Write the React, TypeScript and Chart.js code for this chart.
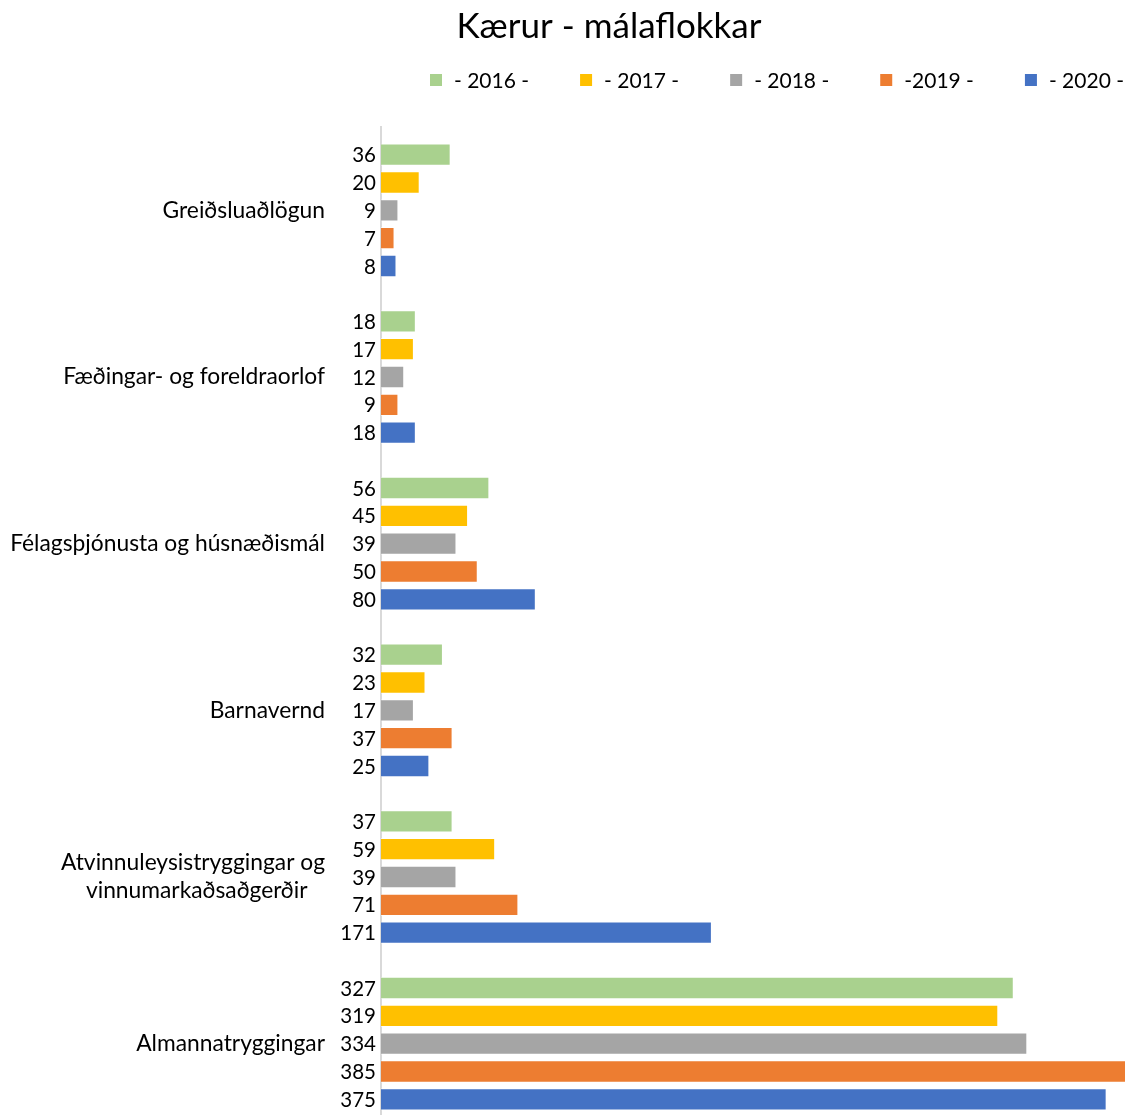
import React, { useEffect, useRef } from "react";
import { Chart, registerables } from "chart.js";

Chart.register(...registerables);

const FONT = "Lato, 'Open Sans', sans-serif";

const categories: (string | string[])[] = [
  "Greiðsluaðlögun",
  "Fæðingar- og foreldraorlof",
  "Félagsþjónusta og húsnæðismál",
  "Barnavernd",
  ["Atvinnuleysistryggingar og", "vinnumarkaðsaðgerðir   "],
  "Almannatryggingar",
];

const seriesLabels = ["- 2016 -", "- 2017 -", "- 2018 -", "-2019 -", "- 2020 -"];
const seriesColors = ["#A9D18E", "#FFC000", "#A5A5A5", "#ED7D31", "#4472C4"];

const values2016 = [36, 18, 56, 32, 37, 327];
const values2017 = [20, 17, 45, 23, 59, 319];
const values2018 = [9, 12, 39, 17, 39, 334];
const values2019 = [7, 9, 50, 37, 71, 385];
const values2020 = [8, 18, 80, 25, 171, 375];

const seriesValues = [values2016, values2017, values2018, values2019, values2020];

const valueLabelPlugin = {
  id: "valueLabels",
  afterDatasetsDraw(chart: any) {
    const ctx = chart.ctx;
    ctx.save();
    ctx.font = `20.5px ${FONT}`;
    ctx.fillStyle = "#000";
    ctx.textAlign = "right";
    ctx.textBaseline = "middle";
    chart.data.datasets.forEach((ds: any, di: number) => {
      const meta = chart.getDatasetMeta(di);
      meta.data.forEach((bar: any, i: number) => {
        ctx.fillText(String(ds.data[i]), chart.chartArea.left - 5, bar.y + 1);
      });
    });
    ctx.restore();
  },
};

const legendPlugin = {
  id: "rowLegend",
  afterDraw(chart: any) {
    const ctx = chart.ctx;
    ctx.save();
    ctx.font = `21px ${FONT}`;
    ctx.textBaseline = "middle";
    ctx.textAlign = "left";
    const boxW = 12;
    const boxGap = 12;
    const itemGap = 51;
    const ds = chart.data.datasets;
    const widths = ds.map((d: any) => ctx.measureText(d.label).width);
    const total =
      widths.reduce((a: number, w: number) => a + boxW + boxGap + w, 0) + itemGap * (ds.length - 1);
    let x = chart.width - 4 - total;
    const y = chart.chartArea.top - 47;
    ds.forEach((d: any, i: number) => {
      ctx.fillStyle = d.backgroundColor;
      ctx.fillRect(x, y - boxW / 2, boxW, boxW);
      ctx.fillStyle = "#000";
      ctx.fillText(d.label, x + boxW + boxGap, y + 1);
      x += boxW + boxGap + widths[i] + itemGap;
    });
    ctx.restore();
  },
};

// let the category labels use the space left of the axis box (no clipping)
const widenLabelArea = {
  id: "widenLabelArea",
  afterLayout(chart: any) {
    const y = chart.scales.y;
    if (y) y.left = 0;
  },
};

export default function App() {
  const ref = useRef<HTMLCanvasElement | null>(null);

  useEffect(() => {
    if (!ref.current) return;
    const chart = new Chart(ref.current, {
      type: "bar",
      data: {
        labels: categories,
        datasets: seriesLabels.map((label, i) => ({
          label,
          data: seriesValues[i],
          backgroundColor: seriesColors[i],
          borderColor: "rgba(255,255,255,0.5)",
          borderWidth: 1,
          barPercentage: 0.8,
          categoryPercentage: 0.835,
        })),
      },
      options: {
        indexAxis: "y",
        responsive: false,
        animation: false,
        devicePixelRatio: 1,
        layout: { padding: { left: 92, right: 2, top: 0, bottom: 2 } },
        plugins: {
          legend: { display: false },
          tooltip: { enabled: false },
          title: {
            display: true,
            text: "Kærur - málaflokkar",
            color: "#000",
            font: { family: FONT, size: 35, weight: "normal", lineHeight: 1.2 },
            padding: { top: 6, bottom: 79 },
          },
        },
        scales: {
          x: {
            display: false,
            min: 0,
            max: 385,
          },
          y: {
            grid: { display: false, drawTicks: false },
            border: { display: true, color: "#D9D9D9", width: 2 },
            ticks: {
              color: "#000",
              padding: 56,
              font: { family: FONT, size: 22.8, lineHeight: 1.22 },
            },
            afterFit(scale: any) {
              scale.width = 289;
              scale.paddingTop = 0;
              scale.paddingBottom = 0;
            },
          },
        },
      },
      plugins: [valueLabelPlugin, legendPlugin, widenLabelArea],
    });
    return () => chart.destroy();
  }, []);

  return (
    <div
      style={{
        position: "fixed",
        left: 0,
        top: 0,
        width: 1128,
        height: 1115,
        overflow: "hidden",
        background: "#fff",
      }}
    >
      <canvas ref={ref} width={1128} height={1129} style={{ width: 1128, height: 1129 }} />
    </div>
  );
}
